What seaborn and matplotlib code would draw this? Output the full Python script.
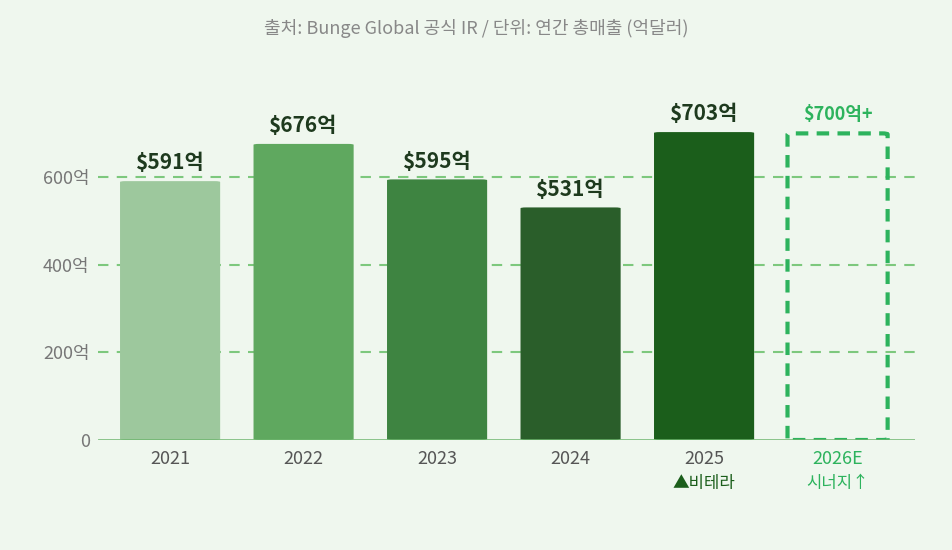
import matplotlib
matplotlib.use("Agg")
import matplotlib.pyplot as plt
import seaborn as sns
import pandas as pd
from matplotlib.patches import FancyBboxPatch

years = ["2021", "2022", "2023", "2024", "2025", "2026E"]
values = [591, 676, 595, 531, 703, 700]
labels = ["$591억", "$676억", "$595억", "$531억", "$703억", "$700억+"]
sublabels = ["", "", "", "", "▲비테라", "시너지↑"]
colors = ["#9DC89D", "#5FA85F", "#3E8441", "#2A5E2A", "#1B5E1B", "#FFFFFF"]
yticks = [0, 200, 400, 600]
ytick_labels = ["0", "200억", "400억", "600억"]

sns.set_theme(style="white")
fam = ["Noto Sans CJK KR", "DejaVu Sans"]
plt.rcParams["font.family"] = fam
bg = "#EFF7EE"
fig = plt.figure(figsize=(9.52, 5.5), dpi=100, facecolor=bg)
ax = fig.add_axes([98/952, 110/550, (915-98)/952, (440-110)/550])
ax.set_facecolor(bg)
df = pd.DataFrame({"year": years, "value": values})
sns.barplot(data=df, x="year", y="value", ax=ax, width=0.75, palette=colors, hue="year", legend=False)
ax.set_xlim(-0.54, 5.58)
ax.set_ylim(0, (440-110)/0.438)

# replace bars with rounded versions
for i, p in enumerate(list(ax.patches)):
    x, w, h = p.get_x(), p.get_width(), p.get_height()
    p.remove()
    if i < 5:
        r = FancyBboxPatch((x, 0), w, h, boxstyle="round,pad=0,rounding_size=0.04",
                           mutation_aspect=1/0.00135*0.0011*60, facecolor=colors[i], edgecolor="none", zorder=3)
        ax.add_patch(r)
    else:
        r = FancyBboxPatch((x, 0), w, h, boxstyle="round,pad=0,rounding_size=0.04",
                           mutation_aspect=60, facecolor="none", edgecolor="#2DB35D",
                           linestyle=(0, (3, 2)), linewidth=3, zorder=3)
        ax.add_patch(r)

for yv in yticks[1:]:
    ax.axhline(yv, color="#7DC87D", linestyle=(0, (5, 4)), linewidth=1.5, zorder=1)
ax.axhline(0, color="#6DB56D", linewidth=1.8, zorder=4)

for i, (v, lab) in enumerate(zip(values, labels)):
    if i < 5:
        ax.text(i, v + 18, lab, ha="center", va="bottom", fontsize=15, fontweight="bold", color="#1E3A1E", zorder=5)
    else:
        ax.text(i, v + 22, lab, ha="center", va="bottom", fontsize=13, fontweight="bold", color="#2DB35D", zorder=5)

for s in ax.spines.values():
    s.set_visible(False)
ax.set_yticks(yticks)
ax.set_yticklabels(ytick_labels, fontsize=13, color="#777777")
ax.set_xticks(range(6))
ax.set_xticklabels(["", "", "", "", "", ""])
ax.tick_params(length=0, pad=6)
ax.set_xlabel("")
ax.set_ylabel("")
for i, y in enumerate(years):
    c = "#2DB35D" if i == 5 else "#555555"
    ax.text(i, -22, y, ha="center", va="top", fontsize=13, color=c)
    if sublabels[i]:
        c2 = "#1B5E1B" if i == 4 else "#2DB35D"
        ax.text(i, -80, sublabels[i], ha="center", va="top", fontsize=12, color=c2, family=fam)

fig.text(0.5, 1 - 28/550, "출처: Bunge Global 공식 IR / 단위: 연간 총매출 (억달러)",
         ha="center", va="center", fontsize=13, color="#888888")
fig.savefig("out.png", dpi=100, facecolor=bg)
